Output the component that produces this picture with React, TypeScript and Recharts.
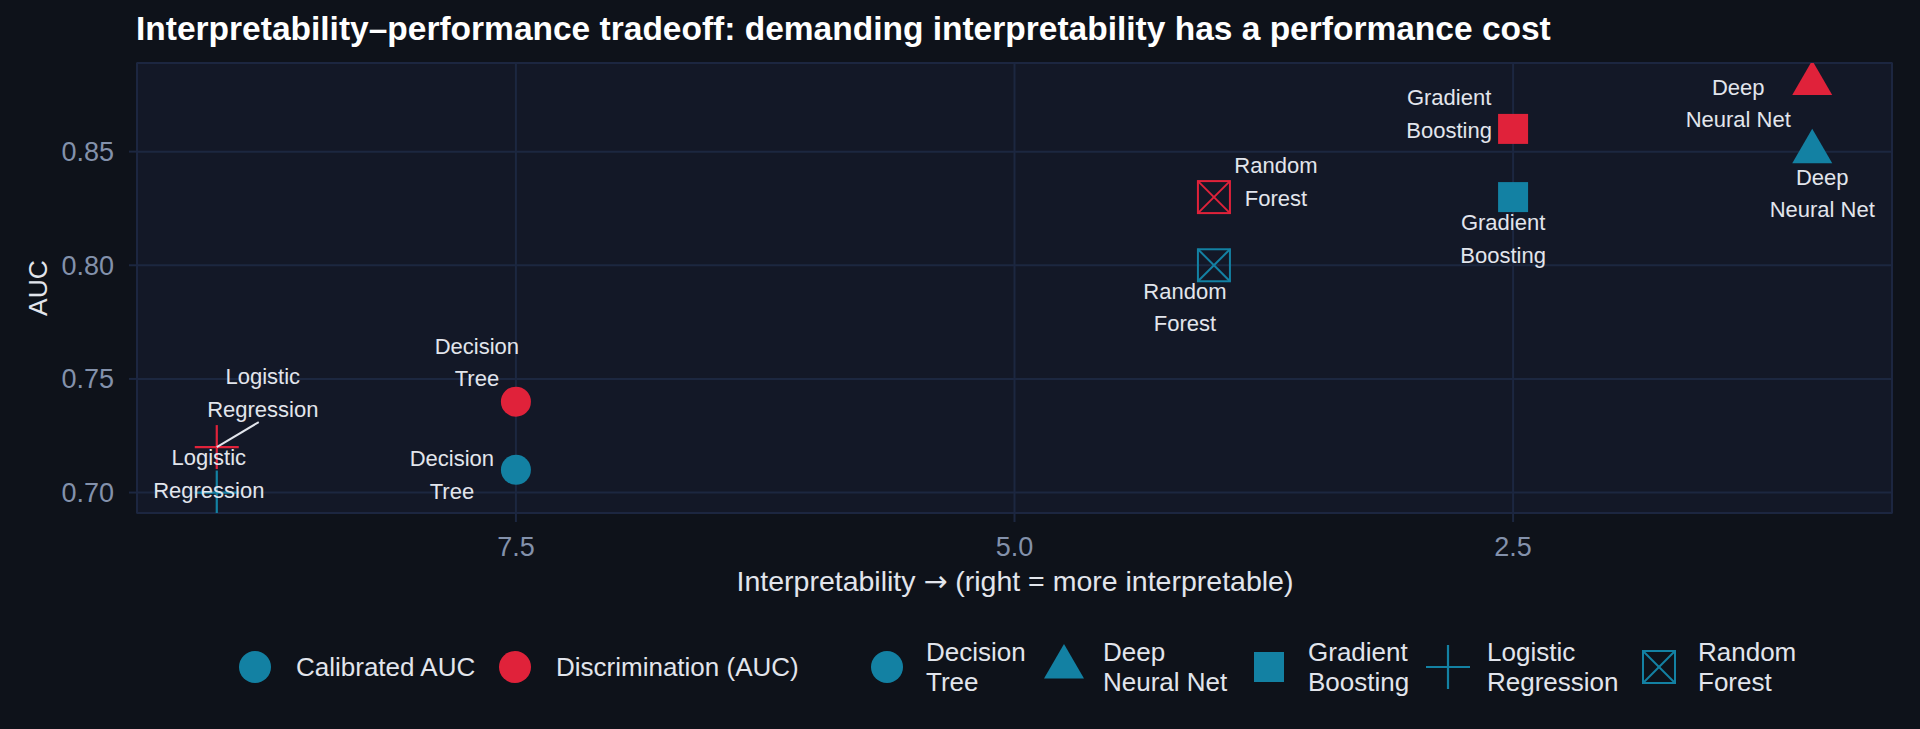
import { ScatterChart, Scatter, XAxis, YAxis, CartesianGrid, ReferenceArea } from "recharts";

// models ordered from most to least interpretable
const models = ["Logistic Regression", "Decision Tree", "Random Forest", "Gradient Boosting", "Deep Neural Net"];
const interpretability = [9, 7.5, 4, 2.5, 1];
const discriminationAUC = [0.72, 0.74, 0.83, 0.86, 0.88];
const calibratedAUC = [0.7, 0.71, 0.8, 0.83, 0.85];
const xTicks = [2.5, 5, 7.5];
const yTicks = [0.7, 0.75, 0.8, 0.85];
const xDomain = [0.6, 9.4];
const yDomain = [0.691, 0.889];

// wrapped model names, as in the labels and legend
const wrapped: Record<string, string[]> = {
  "Logistic Regression": ["Logistic", "Regression"],
  "Decision Tree": ["Decision", "Tree"],
  "Random Forest": ["Random", "Forest"],
  "Gradient Boosting": ["Gradient", "Boosting"],
  "Deep Neural Net": ["Deep", "Neural Net"],
};

const BLUE = "#1381a3";
const RED = "#e0223a";
const BG = "#0e121a";
const PANEL = "#131827";
const GRID = "#1c2740";
const TICK = "#8391ab";
const TEXT = "#e2e5ec";
const FONT = "'Liberation Sans', Arial, Helvetica, sans-serif";

// ggrepel-ish label placement, px offset of label centre from its point
const labelOffsets: Record<string, Record<string, number[]>> = {
  discrimination: {
    "Logistic Regression": [46, -54],
    "Decision Tree": [-39, -39],
    "Random Forest": [62, -15],
    "Gradient Boosting": [-64, -15],
    "Deep Neural Net": [-74, 20],
  },
  calibrated: {
    "Logistic Regression": [-8, -18.5],
    "Decision Tree": [-64, 5],
    "Random Forest": [-29, 42],
    "Gradient Boosting": [-10, 42],
    "Deep Neural Net": [10, 42],
  },
};

const toRows = (values: number[], series: string) =>
  models.map((model, i) => ({ model, interp: interpretability[i], auc: values[i], series }));

const calibratedRows = toRows(calibratedAUC, "calibrated");
const discriminationRows = toRows(discriminationAUC, "discrimination");
const labelRows = [...calibratedRows, ...discriminationRows];

function Marker({ cx, cy, model, color }: { cx: number; cy: number; model: string; color: string }) {
  switch (model) {
    case "Decision Tree":
      return <circle cx={cx} cy={cy} r={15} fill={color} />;
    case "Deep Neural Net":
      return (
        <polygon
          points={`${cx},${cy - 23} ${cx - 20},${cy + 11.5} ${cx + 20},${cy + 11.5}`}
          fill={color}
        />
      );
    case "Gradient Boosting":
      return <rect x={cx - 15} y={cy - 15} width={30} height={30} fill={color} />;
    case "Logistic Regression":
      return (
        <g stroke={color} strokeWidth={2.2}>
          <line x1={cx - 22} y1={cy} x2={cx + 22} y2={cy} />
          <line x1={cx} y1={cy - 22} x2={cx} y2={cy + 22} />
        </g>
      );
    default:
      return (
        <g stroke={color} strokeWidth={2} fill="none">
          <rect x={cx - 16} y={cy - 16} width={32} height={32} />
          <line x1={cx - 16} y1={cy - 16} x2={cx + 16} y2={cy + 16} />
          <line x1={cx - 16} y1={cy + 16} x2={cx + 16} y2={cy - 16} />
        </g>
      );
  }
}

function PointLabel({ cx, cy, payload }: any) {
  const [dx, dy] = labelOffsets[payload.series][payload.model];
  const lines = wrapped[payload.model];
  const x = cx + dx;
  const y = cy + dy;
  const hasSegment = payload.series === "discrimination" && payload.model === "Logistic Regression";
  return (
    <g>
      {hasSegment && <line x1={cx} y1={cy} x2={cx + 42} y2={cy - 25} stroke={TEXT} strokeWidth={2} />}
      {lines.map((line: string, i: number) => (
        <text
          key={line}
          x={x}
          y={y + (i - (lines.length - 1) / 2) * 32.5}
          textAnchor="middle"
          dominantBaseline="central"
          fill={TEXT}
          fontSize={22}
          fontFamily={FONT}
        >
          {line}
        </text>
      ))}
    </g>
  );
}

function LegendKey({ model, color }: { model: string; color: string }) {
  return (
    <svg width={46} height={46} style={{ overflow: "visible" }}>
      {model === "circle" ? (
        <circle cx={23} cy={23} r={16} fill={color} />
      ) : (
        <Marker cx={23} cy={23} model={model} color={color} />
      )}
    </svg>
  );
}

const legendColour = [
  { label: "Calibrated AUC", color: BLUE, x: 255 },
  { label: "Discrimination (AUC)", color: RED, x: 515 },
];

const legendShape = [
  { model: "Decision Tree", x: 887 },
  { model: "Deep Neural Net", x: 1064 },
  { model: "Gradient Boosting", x: 1269 },
  { model: "Logistic Regression", x: 1448 },
  { model: "Random Forest", x: 1659 },
];

export default function App() {
  return (
    <div style={{ position: "relative", width: 1920, height: 729, background: BG, fontFamily: FONT }}>
      <style>{"body{margin:0;background:" + BG + "}"}</style>
      <ScatterChart width={1920} height={729} margin={{ top: 63, right: 28, bottom: 186, left: 0 }}>
        <CartesianGrid stroke={GRID} strokeWidth={2} fill={PANEL} />
        <ReferenceArea
          x1={xDomain[0]}
          x2={xDomain[1]}
          y1={yDomain[0]}
          y2={yDomain[1]}
          fill="none"
          stroke={GRID}
          strokeWidth={1.5}
          ifOverflow="extendDomain"
        />
        <XAxis
          type="number"
          dataKey="interp"
          domain={xDomain}
          reversed
          ticks={xTicks}
          tickFormatter={(v: number) => v.toFixed(1)}
          axisLine={false}
          tickLine={{ stroke: GRID, strokeWidth: 2 }}
          tickSize={9}
          tickMargin={15}
          height={30}
          tick={{ fill: TICK, fontSize: 27, fontFamily: FONT }}
          allowDataOverflow
        />
        <YAxis
          type="number"
          dataKey="auc"
          domain={yDomain}
          ticks={yTicks}
          tickFormatter={(v: number) => v.toFixed(2)}
          axisLine={false}
          tickLine={{ stroke: GRID, strokeWidth: 2 }}
          tickSize={8}
          tickMargin={15}
          width={137}
          tick={{ fill: TICK, fontSize: 27, fontFamily: FONT }}
          allowDataOverflow
        />
        <Scatter
          data={calibratedRows}
          isAnimationActive={false}
          shape={(p: any) => <Marker cx={p.cx} cy={p.cy} model={p.payload.model} color={BLUE} />}
        />
        <Scatter
          data={discriminationRows}
          isAnimationActive={false}
          shape={(p: any) => <Marker cx={p.cx} cy={p.cy} model={p.payload.model} color={RED} />}
        />
        <Scatter data={labelRows} isAnimationActive={false} shape={(p: any) => <PointLabel {...p} />} />
      </ScatterChart>

      <svg
        width={1920}
        height={729}
        style={{ position: "absolute", left: 0, top: 0, pointerEvents: "none" }}
        fontFamily={FONT}
      >
        <text x={136} y={39.5} fill="#ffffff" fontSize={33.5} fontWeight="bold">
          Interpretability–performance tradeoff: demanding interpretability has a performance cost
        </text>
        <text x={1015} y={591} fill={TEXT} fontSize={28.5} textAnchor="middle">
          Interpretability <tspan fontFamily="'DejaVu Sans', sans-serif">→</tspan> (right = more interpretable)
        </text>
        <text transform="translate(47,288) rotate(-90)" fill={TEXT} fontSize={26.5} textAnchor="middle">
          AUC
        </text>
      </svg>

      {legendColour.map((item) => (
        <div key={item.label}>
          <div style={{ position: "absolute", left: item.x - 23, top: 667 - 23 }}>
            <LegendKey model="circle" color={item.color} />
          </div>
          <div
            style={{
              position: "absolute",
              left: item.x + 41,
              top: 667,
              transform: "translateY(-50%)",
              color: TEXT,
              fontSize: 26,
              whiteSpace: "nowrap",
            }}
          >
            {item.label}
          </div>
        </div>
      ))}
      {legendShape.map((item) => (
        <div key={item.model}>
          <div style={{ position: "absolute", left: item.x - 23, top: 667 - 23 }}>
            <LegendKey model={item.model === "Decision Tree" ? "circle" : item.model} color={BLUE} />
          </div>
          <div
            style={{
              position: "absolute",
              left: item.x + 39,
              top: 667,
              transform: "translateY(-50%)",
              color: TEXT,
              fontSize: 26,
              lineHeight: "30px",
            }}
          >
            {wrapped[item.model].map((line) => (
              <div key={line} style={{ whiteSpace: "nowrap" }}>
                {line}
              </div>
            ))}
          </div>
        </div>
      ))}
    </div>
  );
}
